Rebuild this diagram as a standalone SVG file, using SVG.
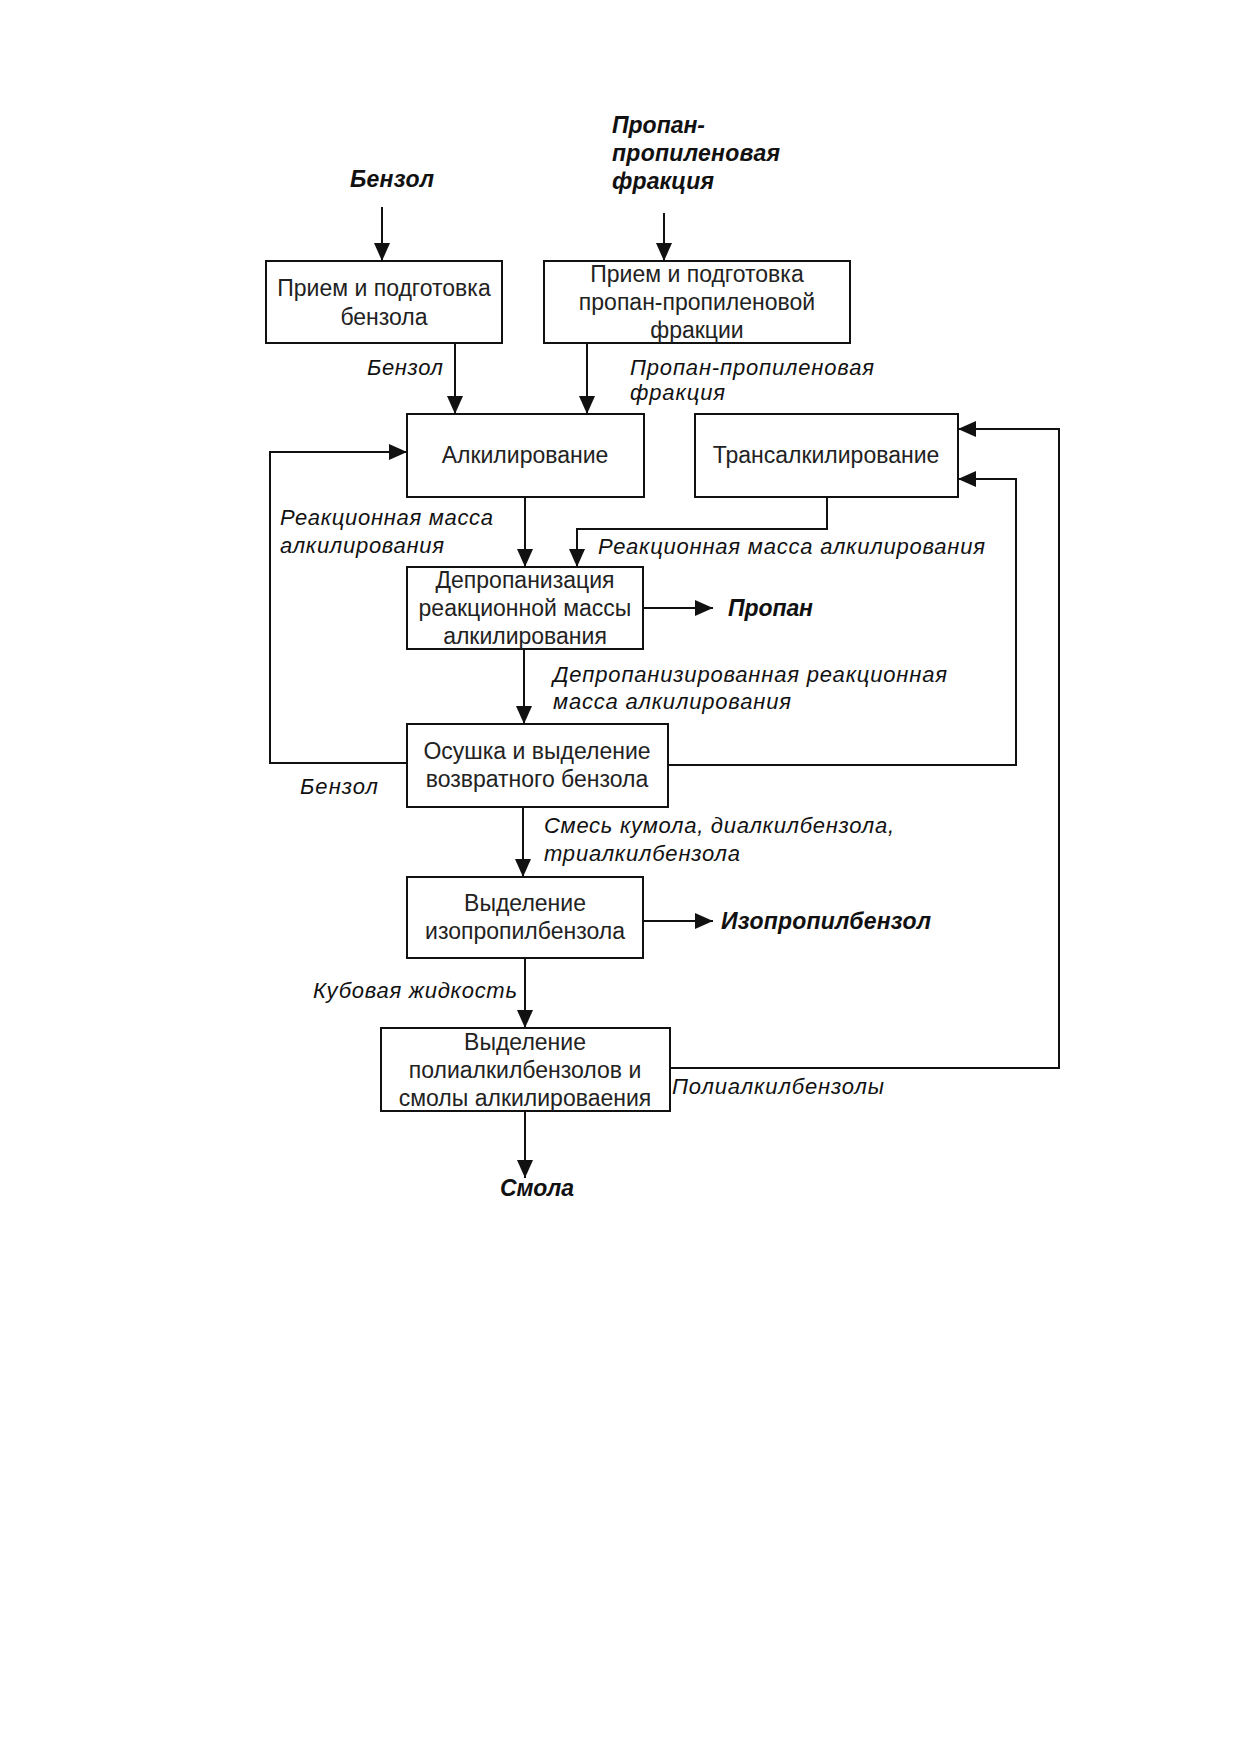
<svg xmlns="http://www.w3.org/2000/svg" width="1241" height="1755" viewBox="0 0 1241 1755">
<defs>
<marker id="ah" viewBox="0 0 18 16" refX="18" refY="8" markerWidth="18" markerHeight="16" markerUnits="userSpaceOnUse" orient="auto">
<path d="M0,0 L18,8 L0,16 z" fill="#111"/>
</marker>
<style>
.box{fill:#fff;stroke:#111;stroke-width:2}
.bt{font-family:"Liberation Sans",Arial,sans-serif;font-size:23px;fill:#222;text-anchor:middle}
.lb{font-family:"Liberation Sans",Arial,sans-serif;font-size:22px;font-style:italic;fill:#111}
.bl{font-family:"Liberation Sans",Arial,sans-serif;font-size:23px;font-style:italic;font-weight:bold;fill:#111}
.cn{fill:none;stroke:#111;stroke-width:2}
</style>
</defs>
<rect width="1241" height="1755" fill="#fff"/>

<g id="n-benzene-in"><text class="bl" x="350" y="187" textLength="84" lengthAdjust="spacing">Бензол</text></g>
<g id="n-ppf-in">
<text class="bl" x="612" y="133">Пропан-</text>
<text class="bl" x="612" y="161" textLength="168" lengthAdjust="spacing">пропиленовая</text>
<text class="bl" x="612" y="189" textLength="102" lengthAdjust="spacing">фракция</text>
</g>
<g id="n-prep-benz"><rect class="box" x="266" y="261" width="236" height="82"/>
<text class="bt" x="384" y="296">Прием и подготовка</text><text class="bt" x="384" y="325">бензола</text></g>
<g id="n-prep-ppf"><rect class="box" x="544" y="261" width="306" height="82"/>
<text class="bt" x="697" y="282">Прием и подготовка</text><text class="bt" x="697" y="310">пропан-пропиленовой</text><text class="bt" x="697" y="338">фракции</text></g>
<g id="n-alk"><rect class="box" x="407" y="414" width="237" height="83"/>
<text class="bt" x="525" y="463">Алкилирование</text></g>
<g id="n-trans"><rect class="box" x="695" y="414" width="263" height="83"/>
<text class="bt" x="826" y="463">Трансалкилирование</text></g>
<g id="n-deprop"><rect class="box" x="407" y="567" width="236" height="82"/>
<text class="bt" x="525" y="588">Депропанизация</text><text class="bt" x="525" y="616">реакционной массы</text><text class="bt" x="525" y="644">алкилирования</text></g>
<g id="n-propane"><text class="bl" x="728" y="616" textLength="85" lengthAdjust="spacing">Пропан</text></g>
<g id="n-dry"><rect class="box" x="407" y="724" width="261" height="83"/>
<text class="bt" x="537" y="759">Осушка и выделение</text><text class="bt" x="537" y="787">возвратного бензола</text></g>
<g id="n-iso"><rect class="box" x="407" y="877" width="236" height="81"/>
<text class="bt" x="525" y="911">Выделение</text><text class="bt" x="525" y="939">изопропилбензола</text></g>
<g id="n-isoprod"><text class="bl" x="721" y="929" textLength="210" lengthAdjust="spacing">Изопропилбензол</text></g>
<g id="n-poly"><rect class="box" x="381" y="1028" width="289" height="83"/>
<text class="bt" x="525" y="1050">Выделение</text><text class="bt" x="525" y="1078">полиалкилбензолов и</text><text class="bt" x="525" y="1106">смолы алкилироваения</text></g>
<g id="n-resin"><text class="bl" x="500" y="1196" textLength="74" lengthAdjust="spacing">Смола</text></g>

<g id="connectors">
<line class="cn" x1="382" y1="207" x2="382" y2="261" marker-end="url(#ah)"/>
<line class="cn" x1="664" y1="213" x2="664" y2="261" marker-end="url(#ah)"/>
<line class="cn" x1="455" y1="343" x2="455" y2="414" marker-end="url(#ah)"/>
<line class="cn" x1="587" y1="343" x2="587" y2="414" marker-end="url(#ah)"/>
<polyline class="cn" points="407,763 270,763 270,452 407,452" marker-end="url(#ah)"/>
<line class="cn" x1="525" y1="497" x2="525" y2="567" marker-end="url(#ah)"/>
<polyline class="cn" points="827,497 827,529 577,529 577,567" marker-end="url(#ah)"/>
<line class="cn" x1="643" y1="608" x2="713" y2="608" marker-end="url(#ah)"/>
<line class="cn" x1="524" y1="649" x2="524" y2="724" marker-end="url(#ah)"/>
<polyline class="cn" points="668,765 1016,765 1016,479 958,479" marker-end="url(#ah)"/>
<line class="cn" x1="523" y1="807" x2="523" y2="877" marker-end="url(#ah)"/>
<line class="cn" x1="643" y1="921" x2="713" y2="921" marker-end="url(#ah)"/>
<line class="cn" x1="525" y1="958" x2="525" y2="1028" marker-end="url(#ah)"/>
<polyline class="cn" points="670,1068 1059,1068 1059,429 958,429" marker-end="url(#ah)"/>
<line class="cn" x1="525" y1="1111" x2="525" y2="1178" marker-end="url(#ah)"/>

<text class="lb" x="367" y="375" textLength="76" lengthAdjust="spacing">Бензол</text>
<text class="lb" x="630" y="375" textLength="244" lengthAdjust="spacing">Пропан-пропиленовая</text>
<text class="lb" x="630" y="400" textLength="95" lengthAdjust="spacing">фракция</text>
<text class="lb" x="280" y="525" textLength="213" lengthAdjust="spacing">Реакционная масса</text>
<text class="lb" x="280" y="553" textLength="164" lengthAdjust="spacing">алкилирования</text>
<text class="lb" x="598" y="554" textLength="387" lengthAdjust="spacing">Реакционная масса алкилирования</text>
<text class="lb" x="553" y="682" textLength="394" lengthAdjust="spacing">Депропанизированная реакционная</text>
<text class="lb" x="553" y="709" textLength="238" lengthAdjust="spacing">масса алкилирования</text>
<text class="lb" x="300" y="794" textLength="78" lengthAdjust="spacing">Бензол</text>
<text class="lb" x="544" y="833" textLength="350" lengthAdjust="spacing">Смесь кумола, диалкилбензола,</text>
<text class="lb" x="544" y="861" textLength="196" lengthAdjust="spacing">триалкилбензола</text>
<text class="lb" x="313" y="998" textLength="204" lengthAdjust="spacing">Кубовая жидкость</text>
<text class="lb" x="672" y="1094" textLength="212" lengthAdjust="spacing">Полиалкилбензолы</text>
</g>
</svg>
